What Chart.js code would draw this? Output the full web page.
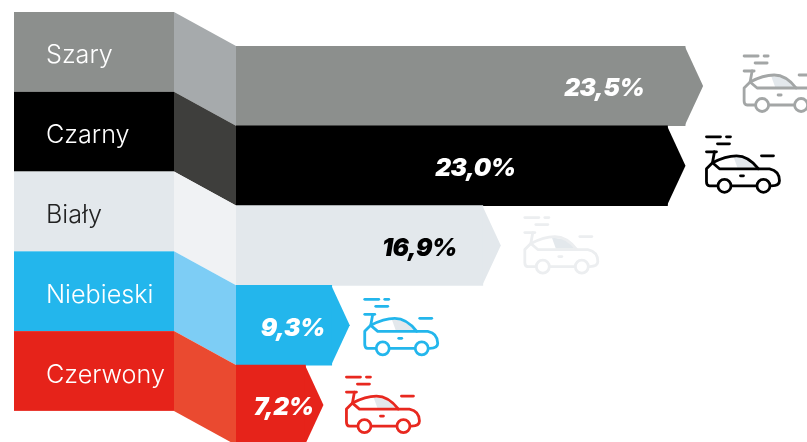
<!DOCTYPE html>
<html>
<head>
<meta charset="utf-8">
<style>
  html, body { margin: 0; background: #fff; overflow: hidden; }
  #chart { display: block; }
</style>
<script src="https://cdn.jsdelivr.net/npm/chart.js@4/dist/chart.umd.min.js"></script>
</head>
<body>
<canvas id="chart" width="807" height="460"></canvas>
<script>
const categories = ['Szary', 'Czarny', 'Biały', 'Niebieski', 'Czerwony'];
const shares = [23.5, 23.0, 16.9, 9.3, 7.2];

const barColors = ['#8c8f8d', '#000000', '#e3e8ec', '#23b6ec', '#e6231a'];
const foldColors = ['#a6aaac', '#3e3e3c', '#f0f2f4', '#7dcdf5', '#ea4a30'];
const carColors = ['#a3a6a6', '#000000', '#eceef0', '#23b6ec', '#e8281f'];
const nameColors = ['#ffffff', '#ffffff', '#222222', '#ffffff', '#ffffff'];
const shareColors = ['#ffffff', '#ffffff', '#000000', '#ffffff', '#ffffff'];

// the infographic's bars are not proportional, a squared axis is close to what was drawn
class SquareScale extends Chart.LinearScale {
    getPixelForValue(value) {
        const f = v => Math.sign(v) * v * v;
        return this.getPixelForDecimal((f(value) - f(this.min)) / (f(this.max) - f(this.min)));
    }
}
SquareScale.id = 'square';
SquareScale.defaults = Chart.LinearScale.defaults;
Chart.register(SquareScale);

const AXIS_MIN = -6.3;
const AXIS_MAX = 26.7;

function drawCar(ctx, x, y, color) {
    ctx.save();
    ctx.translate(x, y);
    ctx.lineWidth = 2.8;
    ctx.lineCap = 'round';
    ctx.lineJoin = 'round';

    // window
    ctx.fillStyle = '#e3e8ec';
    ctx.beginPath();
    ctx.moveTo(28, 21);
    ctx.lineTo(32, 32);
    ctx.lineTo(52, 32);
    ctx.lineTo(42, 23);
    ctx.closePath();
    ctx.fill();

    ctx.strokeStyle = color;
    const dashes = [[1, 1, 15, 1], [21, 1, 25, 1], [12, 8, 24, 8], [1, 16, 11, 16], [56, 20, 68, 20], [35, 40, 38, 40]];
    dashes.forEach(d => {
        ctx.beginPath();
        ctx.moveTo(d[0], d[1]);
        ctx.lineTo(d[2], d[3]);
        ctx.stroke();
    });

    // mirror stalk and windscreen line
    ctx.beginPath();
    ctx.moveTo(9, 16);
    ctx.lineTo(7, 27);
    ctx.lineTo(14, 33);
    ctx.lineTo(53, 33);
    ctx.stroke();

    // body outline
    ctx.beginPath();
    ctx.moveTo(12, 50);
    ctx.lineTo(4, 50);
    ctx.quadraticCurveTo(1, 50, 1, 46);
    ctx.lineTo(1, 33);
    ctx.lineTo(7, 27);
    ctx.quadraticCurveTo(20, 20, 31, 20);
    ctx.quadraticCurveTo(43, 20, 53, 33);
    ctx.lineTo(64, 33);
    ctx.quadraticCurveTo(74, 35, 74, 45);
    ctx.quadraticCurveTo(74, 50, 66, 50);
    ctx.moveTo(26, 50);
    ctx.lineTo(51, 50);
    ctx.stroke();

    // wheels
    [19, 58].forEach(cx => {
        ctx.beginPath();
        ctx.arc(cx, 50, 6.5, 0, Math.PI * 2);
        ctx.stroke();
    });
    ctx.restore();
}

const infographic = {
    id: 'infographic',
    // name panels and the folds that lead to the bars, under the axis labels
    beforeDraw(chart) {
        const ctx = chart.ctx;
        const opts = chart.options.plugins.infographic;
        const left = chart.chartArea.left;
        chart.getDatasetMeta(0).data.forEach((bar, i) => {
            const top = bar.y - bar.height / 2;
            const bottom = bar.y + bar.height / 2;
            ctx.fillStyle = barColors[i];
            ctx.fillRect(opts.panelLeft, top - opts.panelRise, opts.panelRight - opts.panelLeft, bar.height);
            ctx.fillStyle = foldColors[i];
            ctx.beginPath();
            ctx.moveTo(opts.panelRight, top - opts.panelRise);
            ctx.lineTo(left, top);
            ctx.lineTo(left, bottom);
            ctx.lineTo(opts.panelRight, bottom - opts.panelRise);
            ctx.closePath();
            ctx.fill();
        });
    },
    afterDatasetsDraw(chart) {
        const ctx = chart.ctx;
        const opts = chart.options.plugins.infographic;
        chart.getDatasetMeta(0).data.forEach((bar, i) => {
            const top = bar.y - bar.height / 2;
            const bottom = bar.y + bar.height / 2;
            const tipX = bar.x + opts.tip;

            // arrow head on the bar
            ctx.fillStyle = barColors[i];
            ctx.beginPath();
            ctx.moveTo(bar.x - 0.5, top);
            ctx.lineTo(tipX, bar.y);
            ctx.lineTo(bar.x - 0.5, bottom);
            ctx.closePath();
            ctx.fill();

            ctx.save();
            ctx.font = opts.shareFont;
            ctx.letterSpacing = '-0.6px';
            ctx.fillStyle = shareColors[i];
            ctx.textAlign = 'right';
            ctx.textBaseline = 'middle';
            ctx.fillText(shares[i].toFixed(1).replace('.', ',') + '%', bar.x + opts.shareOffset[i], bar.y + 3);
            ctx.restore();

            drawCar(ctx, tipX + opts.carOffset[i], top + opts.carDrop[i], carColors[i]);
        });
    }
};

new Chart(document.getElementById('chart'), {
    type: 'bar',
    data: {
        labels: categories,
        datasets: [{
            data: shares,
            base: AXIS_MIN,
            backgroundColor: barColors,
            borderWidth: 0,
            barPercentage: 1,
            categoryPercentage: 1
        }]
    },
    plugins: [infographic],
    options: {
        indexAxis: 'y',
        responsive: false,
        animation: false,
        layout: { padding: { left: 46, top: 46, bottom: 14, right: 0 } },
        scales: {
            x: { type: 'square', min: AXIS_MIN, max: AXIS_MAX, display: false },
            y: {
                afterFit(scale) { scale.width = 190; },
                grid: { display: false },
                border: { display: false },
                ticks: {
                    crossAlign: 'far',
                    labelOffset: -30,
                    padding: 0,
                    font: { family: 'Inter', size: 25.2, weight: '300' },
                    color: ctx => nameColors[ctx.index]
                }
            }
        },
        plugins: {
            legend: { display: false },
            tooltip: { enabled: false },
            infographic: {
                panelLeft: 14,
                panelRight: 174,
                panelRise: 34,
                tip: 18,
                shareFont: 'italic 900 24.5px Inter',
                shareOffset: [-41, -152, -26, -7, 8],
                carOffset: [40, 20, 23, 14, 22],
                carDrop: [9, 10, 11, 13, 11]
            }
        }
    }
});
</script>
</body>
</html>
